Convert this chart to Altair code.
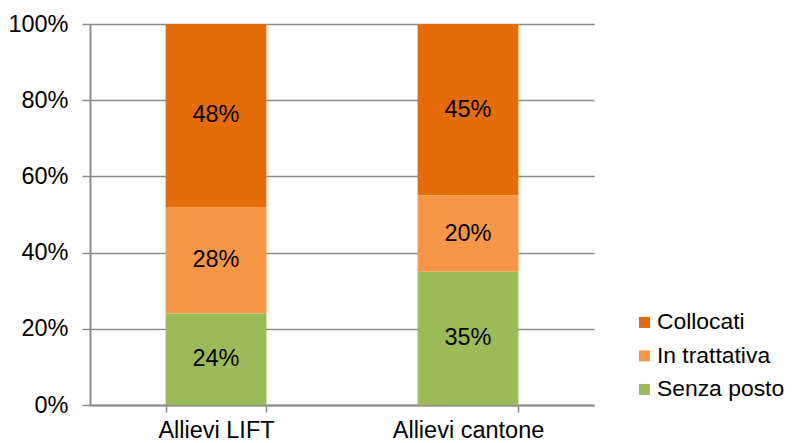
import altair as alt
import pandas as pd

categories = ["Allievi LIFT", "Allievi cantone"]
series = ["Collocati", "In trattativa", "Senza posto"]
collocati = [0.48, 0.45]
in_trattativa = [0.28, 0.20]
senza_posto = [0.24, 0.35]
colors = ["#E46C0A", "#F79646", "#9BBB59"]
stack_order = {"Senza posto": 0, "In trattativa": 1, "Collocati": 2}

rows = []
for i, c in enumerate(categories):
    for s, vals in zip(series, [collocati, in_trattativa, senza_posto]):
        rows.append({"cat": c, "serie": s, "val": vals[i], "ord": stack_order[s]})
df = pd.DataFrame(rows)

FONT = "Liberation Sans"
FS = 23.5
LFS = 22.9
GRID = "#8c8c8c"

base = alt.Chart(df).transform_stack(
    stack="val", groupby=["cat"], as_=["y0", "y1"],
    sort=[alt.SortField("ord", order="ascending")]
).transform_calculate(mid="(datum.y0 + datum.y1) / 2")

x_enc = alt.X("cat:N", sort=categories, title=None,
              scale=alt.Scale(paddingInner=0.6, paddingOuter=0.3),
              axis=alt.Axis(labelAngle=0, labelFont=FONT, labelFontSize=FS,
                            labelColor="#000", tickBand="extent", tickSize=7,
                            tickColor=GRID, tickWidth=1.5, domainColor=GRID,
                            domainWidth=2, labelPadding=6, grid=False))

bars = base.mark_bar().encode(
    x=x_enc,
    y=alt.Y("y0:Q", title=None,
            scale=alt.Scale(domain=[0, 1], nice=False),
            axis=alt.Axis(values=[0, 0.2, 0.4, 0.6, 0.8, 1.0], format=".0%",
                          labelFont=FONT, labelFontSize=FS, labelColor="#000",
                          tickSize=8, tickColor=GRID, tickWidth=1.5,
                          domainColor=GRID, domainWidth=2, labelPadding=14,
                          grid=True, gridColor=GRID, gridWidth=1.5)),
    y2="y1:Q",
    color=alt.Color("serie:N",
                    scale=alt.Scale(domain=series, range=colors),
                    legend=alt.Legend(title=None, orient="none", legendX=543, legendY=287,
                                      symbolType="square", symbolSize=121,
                                      symbolStrokeWidth=0, labelFont=FONT,
                                      labelFontSize=LFS, labelColor="#000",
                                      labelLimit=0,
                                      labelOffset=1, rowPadding=9.5, padding=0)),
)

labels = base.mark_text(font=FONT, fontSize=FS, color="#000", baseline="middle").encode(
    x=alt.X("cat:N", sort=categories),
    y=alt.Y("mid:Q"),
    text=alt.Text("val:Q", format=".0%"),
)

chart = alt.layer(bars, labels).properties(
    width=504, height=381,
    autosize=alt.AutoSizeParams(type="none"),
    padding={"left": 82, "top": 16, "right": 191, "bottom": 38},
).configure_view(stroke=None).configure_axis(gridCap="butt")

chart.save("out.html", embed_options={"renderer": "svg", "actions": False})
